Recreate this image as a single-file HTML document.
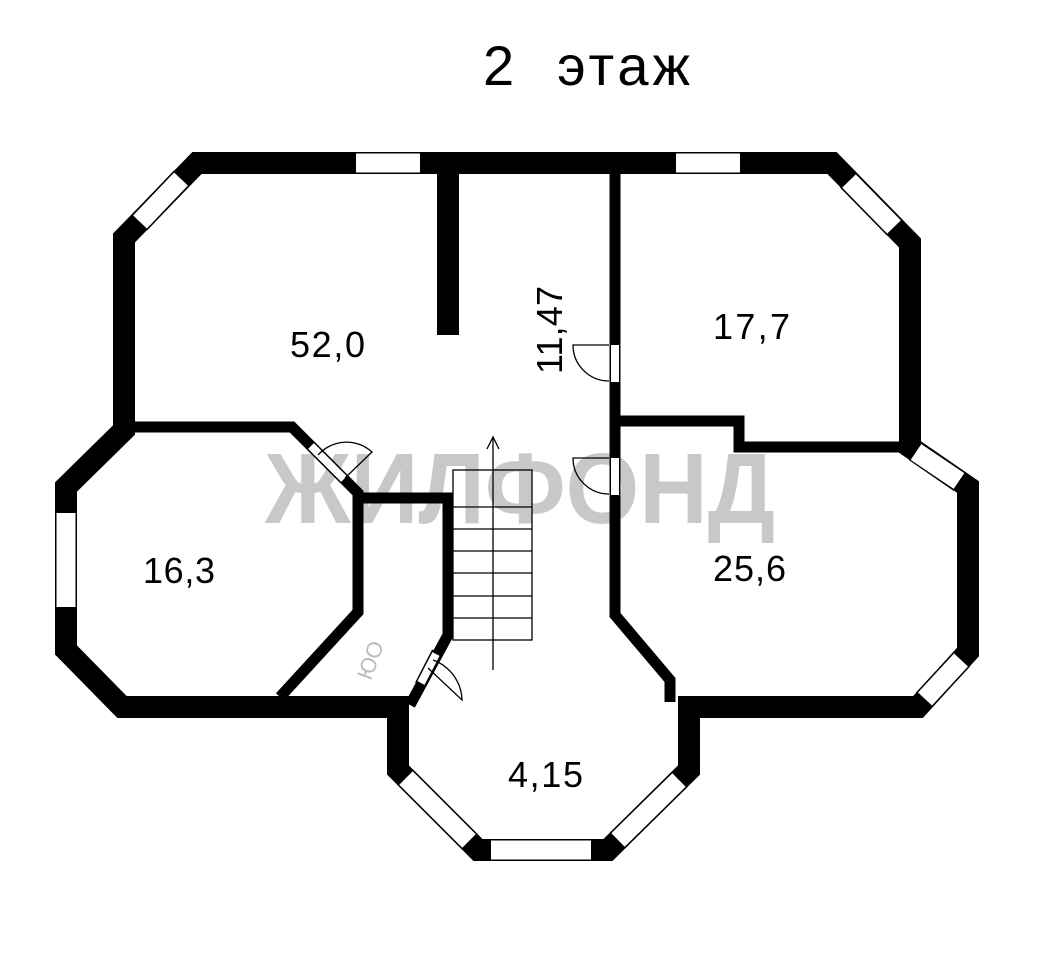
<!DOCTYPE html>
<html><head><meta charset="utf-8"><style>
html,body{margin:0;padding:0;background:#fff;}
svg{display:block;}
text{font-family:"Liberation Sans","DejaVu Sans",sans-serif;}
</style></head><body>
<svg width="1041" height="976" viewBox="0 0 1041 976" xmlns="http://www.w3.org/2000/svg">
<rect width="1041" height="976" fill="#fff"/>
<text x="483" y="85" font-size="56" fill="#000" textLength="207" lengthAdjust="spacing" xml:space="preserve">2  этаж</text>
<text x="520" y="523" font-size="100" font-weight="bold" text-anchor="middle" fill="#c8c8c8" textLength="510" lengthAdjust="spacingAndGlyphs">ЖИЛФОНД</text>
<g fill="none" stroke="#000" stroke-linejoin="miter">
<path d="M197,163 L832,163 L910,243 L910,447 L968,487 L968,652 L918,707 L689,707 L689,770 L608,850 L478,850 L398,770 L398,707 L122,707 L66,650 L66,487 L124,430 L124,238 Z" stroke-width="22"/>
<path d="M448,163 L448,335" stroke-width="22" stroke-linejoin="miter"/>
<path d="M615,168 L615,615 L670,680 L670,702" stroke-width="11"/>
<path d="M620,421 L739,421 L739,447 L900,447" stroke-width="11"/>
<path d="M130,427 L292,427 L358,493 L358,612 L280,697" stroke-width="11"/>
<path d="M358,498 L448,498 L448,635 L410,705" stroke-width="11"/>
</g>
<g stroke-linecap="butt">
<g stroke="#000" stroke-width="22">
<line x1="355" y1="163" x2="421" y2="163"/><line x1="675" y1="163" x2="741" y2="163"/>
<line x1="139" y1="223" x2="182" y2="178"/><line x1="848" y1="180" x2="895" y2="228"/>
<line x1="915" y1="451" x2="960" y2="482"/><line x1="66" y1="512" x2="66" y2="608"/>
<line x1="962" y1="659" x2="924" y2="700"/><line x1="680" y1="779" x2="617" y2="841"/>
<line x1="490" y1="850" x2="592" y2="850"/><line x1="405" y1="777" x2="470" y2="842"/>
</g>
<g stroke="#fff" stroke-width="19">
<line x1="356" y1="163" x2="420" y2="163"/><line x1="676" y1="163" x2="740" y2="163"/>
<line x1="140" y1="222" x2="181" y2="179"/><line x1="849" y1="181" x2="894" y2="227"/>
<line x1="916" y1="452" x2="959" y2="481"/><line x1="66" y1="513" x2="66" y2="607"/>
<line x1="961" y1="660" x2="925" y2="699"/><line x1="679" y1="780" x2="618" y2="840"/>
<line x1="491" y1="850" x2="591" y2="850"/><line x1="406" y1="778" x2="469" y2="841"/>
</g>
<g stroke="#000" stroke-width="11">
<line x1="310" y1="445" x2="345" y2="480"/><line x1="437" y1="652" x2="420" y2="685"/>
<line x1="615" y1="344" x2="615" y2="383"/><line x1="615" y1="457" x2="615" y2="496"/>
</g>
<g stroke="#fff" stroke-width="8">
<line x1="311" y1="446" x2="344" y2="479"/><line x1="436" y1="654" x2="421" y2="683"/>
<line x1="615" y1="345" x2="615" y2="382"/><line x1="615" y1="458" x2="615" y2="495"/>
</g>
</g>
<g fill="none" stroke="#000" stroke-width="1.3">
<path d="M609,345 L573,345 A36,36 0 0 0 609,381"/>
<path d="M609,458 L573,458 A36,36 0 0 0 609,494"/>
<path d="M345,478 L372,452 A38,38 0 0 0 318,455"/>
<path d="M433,660 A44,44 0 0 1 462,700 L428,668"/>
<rect x="453" y="470" width="79" height="170"/>
<line x1="453" y1="507" x2="532" y2="507"/><line x1="453" y1="529" x2="532" y2="529"/>
<line x1="453" y1="551" x2="532" y2="551"/><line x1="453" y1="573" x2="532" y2="573"/>
<line x1="453" y1="596" x2="532" y2="596"/><line x1="453" y1="618" x2="532" y2="618"/>
<line x1="493" y1="437" x2="493" y2="670"/>
<path d="M487,449 L493,437 L499,449"/>
</g>
<text x="370" y="668" font-size="22" fill="#bbb" transform="rotate(-70 370 660)" text-anchor="middle">ЮО</text>
<g font-size="36" fill="#000" lengthAdjust="spacingAndGlyphs">
<text x="290" y="357" textLength="75">52,0</text>
<text x="713" y="339" textLength="77">17,7</text>
<text x="143" y="583" textLength="72">16,3</text>
<text x="713" y="581" textLength="73">25,6</text>
<text x="508" y="787" textLength="75">4,15</text>
<text x="0" y="0" transform="translate(562,374) rotate(-90)" textLength="88">11,47</text>
</g>
</svg>
</body></html>
